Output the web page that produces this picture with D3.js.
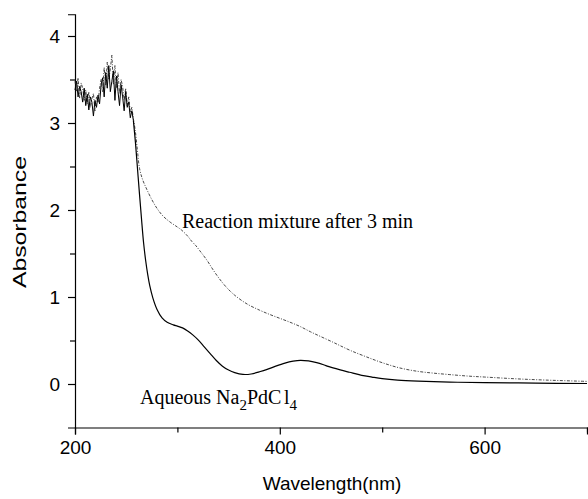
<!DOCTYPE html>
<html>
<head>
<meta charset="utf-8">
<script src="https://cdn.jsdelivr.net/npm/d3@7"></script>
<style>
    body { margin: 0; background: #fff; }
    .tick text { font-family: "Liberation Sans", Arial, sans-serif; font-size: 19px; fill: #000; }
    .axis-title { font-family: "Liberation Sans", Arial, sans-serif; font-size: 19px; }
    .note { font-family: "Liberation Serif", "Times New Roman", serif; font-size: 20px; }
</style>
</head>
<body>
<div id="chart"></div>
<script>
// wavelength (nm) / absorbance
const noiseWl = d3.range(200, 257.5, 1.5);
const pdNoise = [3.38, 3.48, 3.30, 3.42, 3.36, 3.24, 3.40, 3.20, 3.33, 3.15,
    3.30, 3.24, 3.08, 3.26, 3.18, 3.32, 3.22, 3.44, 3.52, 3.30,
    3.58, 3.40, 3.66, 3.36, 3.48, 3.60, 3.26, 3.54, 3.36, 3.20,
    3.44, 3.30, 3.14, 3.36, 3.18, 3.24, 3.06, 3.14, 3.03];
const mixNoise = [3.48, 3.36, 3.52, 3.28, 3.46, 3.40, 3.26, 3.38, 3.22, 3.36,
    3.18, 3.28, 3.34, 3.14, 3.30, 3.24, 3.40, 3.50, 3.36, 3.64,
    3.44, 3.70, 3.50, 3.62, 3.78, 3.44, 3.66, 3.40, 3.58, 3.34,
    3.50, 3.42, 3.26, 3.40, 3.20, 3.30, 3.12, 3.18, 3.05];

const pdWl = [259, 261, 263, 265, 267, 269, 271, 273, 276, 280, 285, 290, 296, 300, 305, 310,
    315, 320, 326, 332, 338, 344, 350, 356, 364, 372, 380, 387, 396, 405, 413, 420, 428, 436, 445,
    452, 459, 468, 480, 490, 500, 515, 535, 566, 600, 650, 700];
const pdAbs = [2.78, 2.48, 2.18, 1.89, 1.62, 1.42, 1.26, 1.13, 0.99, 0.86, 0.76, 0.71, 0.68, 0.665, 0.645, 0.61,
    0.565, 0.51, 0.43, 0.35, 0.27, 0.205, 0.16, 0.13, 0.11, 0.115, 0.14, 0.165, 0.205, 0.24, 0.262, 0.272, 0.265, 0.245, 0.212,
    0.185, 0.162, 0.135, 0.10, 0.08, 0.062, 0.045, 0.033, 0.022, 0.016, 0.01, 0.006];

const mixWl = [259, 261, 263, 266, 270, 275, 280, 286, 293, 298, 304, 310, 314, 318, 322,
    329, 335, 341, 348, 356, 368, 380, 390, 400, 410, 420, 430, 440, 452, 459, 470, 485,
    500, 517, 535, 550, 566, 585, 600, 630, 660, 700];
const mixAbs = [2.90, 2.68, 2.48, 2.35, 2.24, 2.12, 2.02, 1.93, 1.86, 1.82, 1.77, 1.70, 1.64, 1.59, 1.53,
    1.42, 1.31, 1.21, 1.11, 1.02, 0.92, 0.85, 0.80, 0.755, 0.71, 0.66, 0.60, 0.545, 0.48, 0.44, 0.38, 0.31,
    0.245, 0.185, 0.145, 0.125, 0.108, 0.09, 0.08, 0.06, 0.045, 0.03];

const xMajor = [200, 400, 600];
const xMinor = [300, 500, 700];
const yMajor = [0, 1, 2, 3, 4];
const yMinor = [0.5, 1.5, 2.5, 3.5];

const w = 588;
const h = 499;

const toPoints = (wl, ab) => wl.map((d, i) => ({ wl: d, abs: ab[i] }));

const x = d3.scaleLinear().domain([200, 700]).range([75, 587]);
const y = d3.scaleLinear().domain([-0.5, 4.25]).range([427.5, 14.25]);

const svg = d3.select('#chart')
    .append('svg')
    .attr('width', w)
    .attr('height', h);

// axes
svg.append('g')
    .attr('transform', `translate(0,${y(-0.5)})`)
    .call(d3.axisBottom(x).tickValues(xMajor).tickSize(7).tickPadding(6).tickFormat(d3.format('d')));
svg.append('g')
    .attr('transform', `translate(0,${y(-0.5)})`)
    .call(d3.axisBottom(x).tickValues(xMinor).tickSize(5).tickFormat(''))
    .select('.domain').remove();

svg.append('g')
    .attr('transform', `translate(${x(200)},0)`)
    .call(d3.axisLeft(y).tickValues(yMajor).tickSize(7).tickPadding(8).tickFormat(d3.format('d')));
svg.append('g')
    .attr('transform', `translate(${x(200)},0)`)
    .call(d3.axisLeft(y).tickValues(yMinor).tickSize(5).tickFormat(''))
    .select('.domain').remove();

svg.selectAll('.domain').attr('stroke', '#000').attr('stroke-width', 1.2);
svg.selectAll('.tick line').attr('stroke', '#000').attr('stroke-width', 1.2);

// curves: noisy part straight segments, rest smooth
const noisyLine = d3.line()
    .x(d => x(d.wl))
    .y(d => y(d.abs));
const smoothLine = d3.line()
    .x(d => x(d.wl))
    .y(d => y(d.abs))
    .curve(d3.curveCatmullRom.alpha(0.5));

function drawSeries(noise, wl, ab, style) {
    const noisy = toPoints(noiseWl, noise);
    const smooth = [noisy[noisy.length - 1]].concat(toPoints(wl, ab));
    [[noisy, noisyLine, style.noiseWidth], [smooth, smoothLine, style.width]].forEach(([data, gen, sw]) => {
        svg.append('path')
            .datum(data)
            .attr('fill', 'none')
            .attr('stroke', style.color)
            .attr('stroke-width', sw)
            .attr('stroke-dasharray', style.dash)
            .attr('d', gen);
    });
}

drawSeries(mixNoise, mixWl, mixAbs, { color: '#333', width: 0.9, noiseWidth: 0.9, dash: '3,1.5,1,1.5' });
drawSeries(pdNoise, pdWl, pdAbs, { color: '#000', width: 1.2, noiseWidth: 1, dash: null });

// labels
svg.append('text')
    .attr('class', 'axis-title')
    .attr('x', 332)
    .attr('y', 490)
    .attr('text-anchor', 'middle')
    .text('Wavelength(nm)');

svg.append('text')
    .attr('class', 'axis-title')
    .attr('transform', 'translate(26,222) rotate(-90)')
    .attr('text-anchor', 'middle')
    .attr('textLength', 132)
    .attr('lengthAdjust', 'spacingAndGlyphs')
    .text('Absorbance');

svg.append('text')
    .attr('class', 'note')
    .attr('x', 182)
    .attr('y', 228)
    .text('Reaction mixture after 3 min');

const aq = svg.append('text')
    .attr('class', 'note')
    .attr('x', 140)
    .attr('y', 404);
aq.append('tspan').text('Aqueous Na');
aq.append('tspan').attr('dy', 6).attr('font-size', 15).text('2');
aq.append('tspan').attr('dy', -6).text('PdC');
aq.append('tspan').attr('dx', 2.5).text('l');
aq.append('tspan').attr('dy', 6).attr('font-size', 15).text('4');
</script>
</body>
</html>
